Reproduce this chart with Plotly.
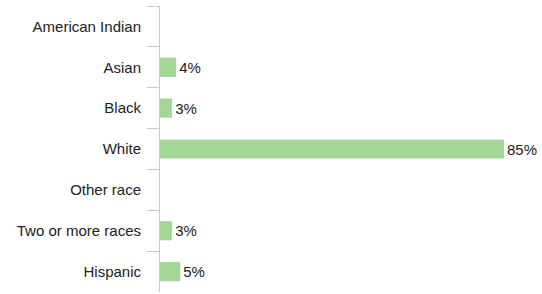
import plotly.graph_objects as go

categories = ["American Indian", "Asian", "Black", "White", "Other race", "Two or more races", "Hispanic"]
values = [0, 4, 3, 85, 0, 3, 5]
labels = ["", "4%", "3%", "85%", "", "3%", "5%"]

fig = go.Figure(go.Bar(
    y=categories, x=values, orientation="h",
    marker=dict(color="#a4d698", line=dict(width=0)),
    text=labels, textposition="outside", cliponaxis=False,
    textfont=dict(family="Liberation Sans, Arial", size=15, color="#222222"),
    width=0.47,
))

fig.update_layout(
    width=542, height=294,
    margin=dict(l=160, r=38, t=6, b=2, autoexpand=False),
    paper_bgcolor="white", plot_bgcolor="white",
    font=dict(family="Liberation Sans, Arial", size=15, color="#222222"),
    showlegend=False,
)
fig.update_xaxes(range=[0, 85], visible=False, automargin=False)
fig.update_yaxes(
    autorange="reversed", type="category", automargin=False,
    showline=True, linecolor="#c8c8c8", linewidth=1,
    ticks="outside", tickson="boundaries", ticklen=12, tickcolor="#c8c8c8",
    showgrid=False, ticklabelstandoff=15,
)

fig.write_html("out.html", config={"displayModeBar": False},
               post_script="document.body.style.margin='0';")
